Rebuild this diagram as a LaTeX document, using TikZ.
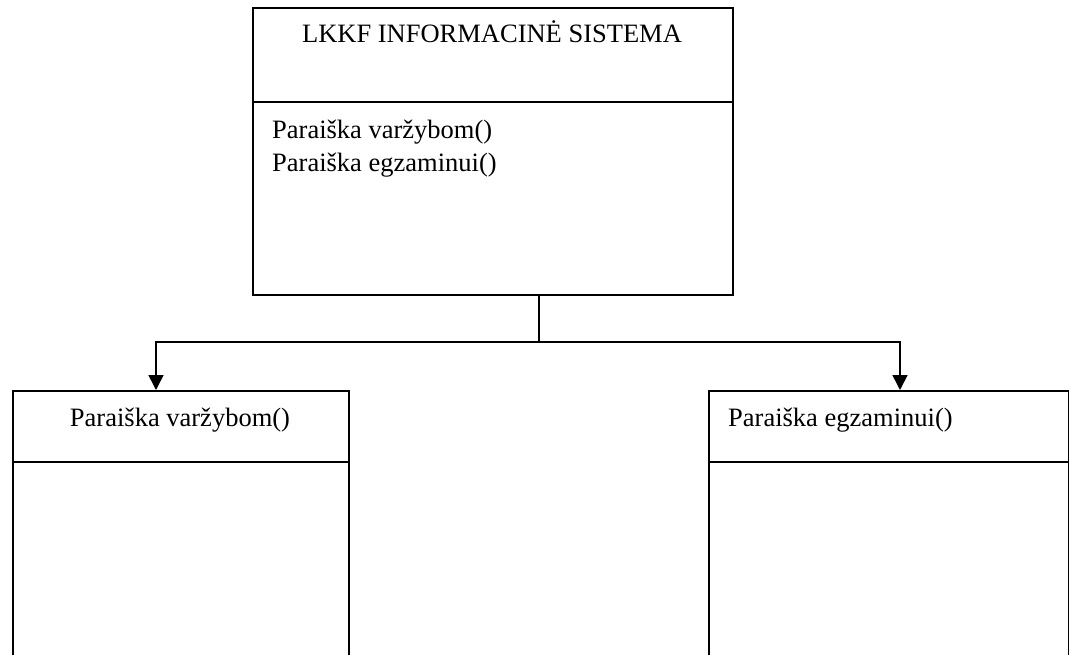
\documentclass[tikz,border=0pt]{standalone}
\usepackage{fontspec}
\setmainfont{Liberation Serif}
\usepackage{tikz}
\usetikzlibrary{positioning,calc,arrows.meta}
\tikzset{
  box/.style={draw=black,line width=1.6pt,inner sep=0pt,anchor=north west},
  sep/.style={draw=black,line width=1.6pt},
  link/.style={draw=black,line width=1.6pt},
  arr/.style={link,-{Triangle[length=15pt,width=15pt]}},
  txt/.style={inner sep=0pt,font=\fontsize{26.5}{32}\selectfont},
}
\begin{document}
\begin{tikzpicture}[x=1pt,y=-1pt]
        \useasboundingbox (0,0) rectangle (1069,654);
        % klases
        \node[box,minimum width=480pt,minimum height=287pt] (sys) at (252,7) {};
        \node[box,minimum width=336pt,minimum height=270pt] (vz) at (12,390) {};
        \node[box,minimum width=360pt,minimum height=270pt] (eg) at (708,390) {};
        \draw[sep] (sys.west |- 0,102) -- (sys.east |- 0,102);
        \draw[sep] (vz.west |- 0,462) -- (vz.east |- 0,462);
        \draw[sep] (eg.west |- 0,462) -- (eg.east |- 0,462);
        % tekstai
        \node[txt,anchor=base] (sysName) at (492,42) {LKKF INFORMACINĖ SISTEMA};
        \node[txt,anchor=base west] (sysM1) at (272,138) {Paraiška varžybom()};
        \node[txt,anchor=base west] (sysM2) at (272,171) {Paraiška egzaminui()};
        \node[txt,anchor=base] (vzName) at (180,426) {Paraiška varžybom()};
        \node[txt,anchor=base west] (egName) at (728,426) {Paraiška egzaminui()};
        % rysiai
        \coordinate (sysOut) at (sys.south -| 539,0);
        \coordinate (fork) at (539,342);
        \coordinate (vzIn) at (vz.north -| 156,0);
        \coordinate (egIn) at (eg.north -| 900,0);
        \draw[link] (sysOut)--(fork);
        \draw[arr] (fork) -| (vzIn);
        \draw[arr] (fork) -| (egIn);
      \end{tikzpicture}
\end{document}
